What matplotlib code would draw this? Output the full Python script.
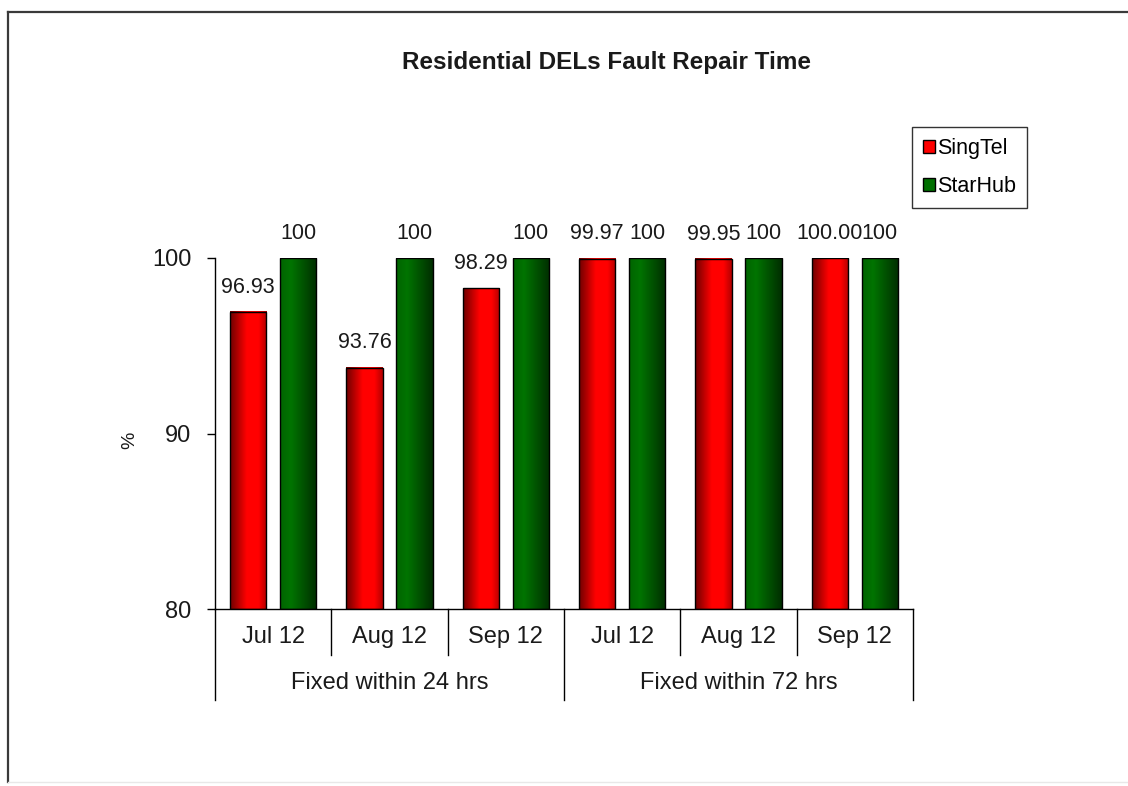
import matplotlib
matplotlib.use('Agg')
import numpy as np
import matplotlib.pyplot as plt
from matplotlib.colors import LinearSegmentedColormap
from matplotlib.patches import Patch
from matplotlib.lines import Line2D

plt.rcParams['font.family'] = ['Liberation Sans', 'DejaVu Sans']

months = ['Jul 12', 'Aug 12', 'Sep 12', 'Jul 12', 'Aug 12', 'Sep 12']
groups = ['Fixed within 24 hrs', 'Fixed within 72 hrs']
singtel = [96.93, 93.76, 98.29, 99.97, 99.95, 100.00]
starhub = [100, 100, 100, 100, 100, 100]
singtel_labels = ['96.93', '93.76', '98.29', '99.97', '99.95', '100.00']
starhub_labels = ['100', '100', '100', '100', '100', '100']

W, H = 1128, 786
fig = plt.figure(figsize=(W / 100, H / 100), dpi=100)
fig.patch.set_facecolor('white')

# outer chart border (left/top visible, right edge runs off the picture)
fig.add_artist(Line2D([8 / W, 8 / W], [1 - 782 / H, 1 - 12 / H], color='#3a3a3a', lw=1.6, transform=fig.transFigure))
fig.add_artist(Line2D([8 / W, 1.0], [1 - 12 / H, 1 - 12 / H], color='#3a3a3a', lw=1.6, transform=fig.transFigure))
fig.add_artist(Line2D([8 / W, 1.0], [1 - 782 / H, 1 - 782 / H], color='#e8e8e8', lw=1.0, transform=fig.transFigure))

ax = fig.add_axes([215 / W, 1 - 609 / H, (913 - 215) / W, (609 - 258) / H])

red_cm = LinearSegmentedColormap.from_list('red', [(0, '#700000'), (0.45, '#ff0000'), (0.78, '#ff0000'), (1, '#b40000')])
green_cm = LinearSegmentedColormap.from_list('green', [(0, '#006400'), (0.3, '#007400'), (1, '#002e00')])
grad = np.linspace(0, 1, 64).reshape(1, -1)

x = np.arange(len(months)) + 0.5
bw = 0.31
off = 0.215
ymin = 80


def gbar(xc, val, cmap):
    ax.imshow(grad, cmap=cmap, extent=[xc - bw / 2, xc + bw / 2, ymin, val],
              aspect='auto', interpolation='bilinear', zorder=2)
    ax.bar(xc, val - ymin, bw, bottom=ymin, facecolor='none', edgecolor='black', lw=1.0, zorder=3)


for i in range(len(months)):
    gbar(x[i] - off, singtel[i], red_cm)
    gbar(x[i] + off, starhub[i], green_cm)
    ax.text(x[i] - off, singtel[i] + 0.8, singtel_labels[i], ha='center', va='bottom', fontsize=15.5, color='#1a1a1a', clip_on=False)
    ax.text(x[i] + off, starhub[i] + 0.8, starhub_labels[i], ha='center', va='bottom', fontsize=15.5, color='#1a1a1a', clip_on=False)

ax.set_xlim(0, len(months))
ax.set_ylim(80, 100)
ax.set_yticks([80, 90, 100])
ax.tick_params(axis='y', direction='out', length=6, width=1.0, pad=11, labelsize=17, labelcolor='#1a1a1a')
ax.set_xticks([])
for s in ['top', 'right']:
    ax.spines[s].set_visible(False)
ax.spines['left'].set_linewidth(1.0)
ax.spines['bottom'].set_linewidth(1.0)

# two-level category axis
tr = ax.get_xaxis_transform()
for b in range(len(months) + 1):
    depth = -0.259 if b % 3 == 0 else -0.131
    ax.plot([b, b], [0, depth], color='black', lw=1.0, transform=tr, clip_on=False)
for i, m in enumerate(months):
    ax.text(x[i], -0.08, m, transform=tr, ha='center', va='center', fontsize=17, color='#1a1a1a')
for g, name in enumerate(groups):
    ax.text(1.5 + 3 * g, -0.211, name, transform=tr, ha='center', va='center', fontsize=17, color='#1a1a1a')

fig.text(130 / W, 1 - 440 / H, '%', rotation=90, ha='center', va='center', fontsize=14, color='#1a1a1a')
fig.text(606 / W, 1 - 62 / H, 'Residential DELs Fault Repair Time', ha='center', va='center',
         fontsize=17.5, fontweight='bold', color='#1a1a1a')

handles = [Patch(facecolor='#ff0000', edgecolor='black', label='SingTel'),
           Patch(facecolor='#007000', edgecolor='black', label='StarHub')]
leg = fig.legend(handles=handles, loc='upper left', bbox_to_anchor=(912 / W, 1 - 127 / H),
                 fontsize=15.5, frameon=True, fancybox=False, handlelength=0.55, handleheight=0.55,
                 handletextpad=0.1, borderpad=0.5, labelspacing=0.8, borderaxespad=0)
leg.get_frame().set_edgecolor('black')
leg.get_frame().set_linewidth(1.0)

fig.savefig('out.png', dpi=100)
